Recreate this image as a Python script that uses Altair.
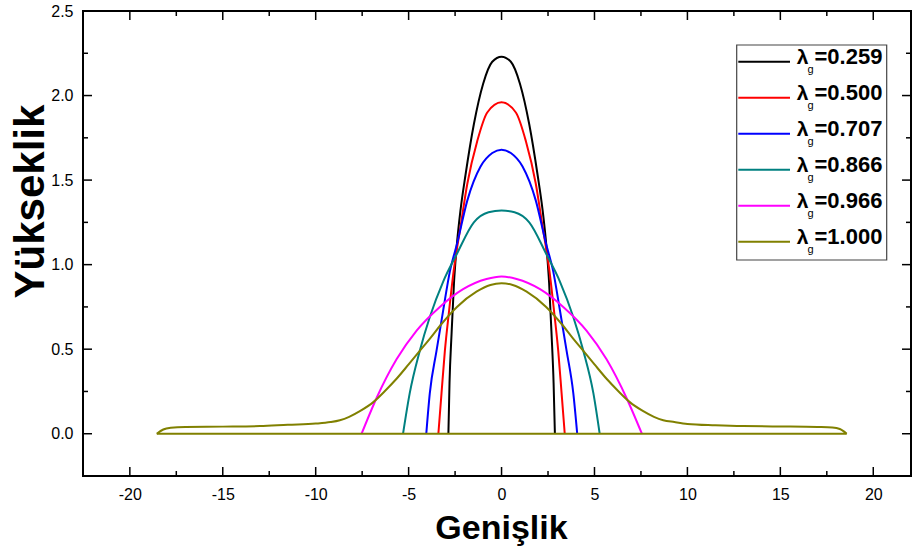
import altair as alt
import pandas as pd

# ---------------- data ----------------
series_names = ["0.259", "0.500", "0.707", "0.866", "0.966", "1.000"]
series_colors = ["#000000", "#FF0000", "#0000FF", "#008080", "#FF00FF", "#808000"]

black_x = [-2.86, -2.80, -2.69, -2.56, -2.42, -2.20, -1.94, -1.49, -0.99, -0.50, 0.00,
           0.50, 0.99, 1.49, 1.94, 2.20, 2.42, 2.56, 2.69, 2.80, 2.87]
black_y = [0.00, 0.30, 0.59, 0.89, 1.10, 1.33, 1.53, 1.83, 2.07, 2.20, 2.23,
           2.20, 2.07, 1.83, 1.53, 1.33, 1.10, 0.89, 0.59, 0.30, 0.00]

red_x = [-3.40, -3.23, -3.05, -2.82, -2.58, -2.20, -1.84, -1.31, -0.77, 0.00,
         0.77, 1.31, 1.84, 2.20, 2.58, 2.82, 3.05, 3.23, 3.40]
red_y = [0.00, 0.24, 0.49, 0.73, 0.96, 1.23, 1.48, 1.73, 1.90, 1.96,
         1.90, 1.73, 1.48, 1.23, 0.96, 0.73, 0.49, 0.24, 0.00]

blue_x = [-4.05, -3.86, -3.50, -3.14, -2.78, -2.38, -1.84, -1.13, -0.50, 0.00,
          0.50, 1.13, 1.84, 2.38, 2.78, 3.14, 3.50, 3.86, 4.07]
blue_y = [0.00, 0.24, 0.49, 0.73, 0.96, 1.13, 1.38, 1.58, 1.66, 1.68,
          1.66, 1.58, 1.38, 1.13, 0.96, 0.73, 0.49, 0.24, 0.00]

teal_x = [-5.30, -4.94, -4.40, -3.86, -3.14, -2.42, -1.49, -0.70, 0.00,
          0.70, 1.49, 2.42, 3.14, 3.86, 4.40, 4.94, 5.28]
teal_y = [0.00, 0.24, 0.49, 0.69, 0.90, 1.06, 1.25, 1.31, 1.32,
          1.31, 1.25, 1.06, 0.90, 0.69, 0.49, 0.24, 0.00]

magenta_x = [-7.53, -6.73, -5.65, -4.57, -3.32, -2.07, -0.81, 0.00,
             0.81, 2.07, 3.32, 4.57, 5.65, 6.73, 7.55]
magenta_y = [0.00, 0.21, 0.44, 0.61, 0.75, 0.855, 0.915, 0.93,
             0.915, 0.855, 0.75, 0.61, 0.44, 0.21, 0.00]

olive_x = [-18.55, -18.20, -17.80, -17.00, -15.00, -13.00, -11.50, -10.00, -9.20, -8.70,
           -8.20, -7.60, -6.90, -6.30, -5.65, -5.00, -4.40, -3.80, -3.30, -2.40, -1.35,
           -0.60, 0.00, 0.60, 1.35, 2.40, 3.30, 3.80, 4.40, 5.00, 5.65, 6.30, 6.90, 7.60,
           8.20, 8.70, 9.30, 10.00, 11.50, 13.00, 15.00, 17.00, 17.80, 18.20, 18.57]
olive_y = [0.000, 0.025, 0.035, 0.040, 0.042, 0.045, 0.053, 0.060, 0.069, 0.080,
           0.100, 0.135, 0.187, 0.250, 0.325, 0.410, 0.490, 0.570, 0.640, 0.750, 0.840,
           0.880, 0.890, 0.880, 0.840, 0.750, 0.640, 0.570, 0.490, 0.410, 0.325, 0.250,
           0.187, 0.135, 0.100, 0.080, 0.069, 0.058, 0.050, 0.045, 0.043, 0.040, 0.037,
           0.028, 0.000]
olive_base_x = [-18.55, 18.57]
olive_base_y = [0.0, 0.0]

x_major = [-20, -15, -10, -5, 0, 5, 10, 15, 20]
x_minor = [-17.5, -12.5, -7.5, -2.5, 2.5, 7.5, 12.5, 17.5]
y_major = [0.0, 0.5, 1.0, 1.5, 2.0, 2.5]
y_minor = [0.25, 0.75, 1.25, 1.75, 2.25]

# ---------------- layout constants ----------------
W, H = 828, 465
FONT = "Liberation Sans"

xs_all = [black_x, red_x, blue_x, teal_x, magenta_x, olive_x]
ys_all = [black_y, red_y, blue_y, teal_y, magenta_y, olive_y]

X = alt.X("x:Q",
          scale=alt.Scale(domain=[-22.52, 22.03], nice=False, zero=False),
          axis=alt.Axis(values=x_major, title="Genişlik", grid=False, domain=False,
                        ticks=False, labelExpr="datum.value + ''",
                        labelFont=FONT, labelFontSize=16, labelColor="black",
                        labelPadding=10, labelFlush=False, labelOverlap=False,
                        titleFont=FONT, titleFontSize=34, titleFontWeight="bold",
                        titleColor="black", titleX=418, titleY=62,
                        titleAlign="center", titleBaseline="alphabetic"))
Y = alt.Y("y:Q",
          scale=alt.Scale(domain=[-0.25, 2.5], nice=False, zero=False),
          axis=alt.Axis(values=y_major, format=".1f", title="Yükseklik", grid=False,
                        domain=False, ticks=False, labelFont=FONT, labelFontSize=16,
                        labelColor="black", labelPadding=10, labelFlush=False,
                        labelOverlap=False, titleFont=FONT, titleFontSize=42,
                        titleFontWeight="bold", titleColor="black", titleAngle=270,
                        titleX=-40, titleY=190, titleAlign="center",
                        titleBaseline="alphabetic"))

layers = []
for name, col, xs, ys in zip(series_names, series_colors, xs_all, ys_all):
    df = pd.DataFrame({"x": xs, "y": ys, "i": list(range(len(xs)))})
    layers.append(alt.Chart(df).mark_line(color=col, strokeWidth=2, interpolate="monotone")
                  .encode(x=X, y=Y, order="i:Q"))
df_base = pd.DataFrame({"x": olive_base_x, "y": olive_base_y, "i": [0, 1]})
layers.append(alt.Chart(df_base).mark_line(color=series_colors[-1], strokeWidth=2)
              .encode(x=X, y=Y, order="i:Q"))

# inward ticks on all four sides
def xticks(vals, length):
    d = pd.DataFrame({"x": vals})
    bottom = alt.Chart(d).mark_rule(color="black", strokeWidth=1.5).encode(
        x=X, y=alt.value(H), y2=alt.value(H - length))
    top = alt.Chart(d).mark_rule(color="black", strokeWidth=1.5).encode(
        x=X, y=alt.value(0), y2=alt.value(length))
    return [bottom, top]

def yticks(vals, length):
    d = pd.DataFrame({"y": vals})
    left = alt.Chart(d).mark_rule(color="black", strokeWidth=1.5).encode(
        y=Y, x=alt.value(0), x2=alt.value(length))
    right = alt.Chart(d).mark_rule(color="black", strokeWidth=1.5).encode(
        y=Y, x=alt.value(W), x2=alt.value(W - length))
    return [left, right]

tick_layers = xticks(x_major, 9) + xticks(x_minor, 5) + yticks(y_major, 9) + yticks(y_minor, 5)

main = alt.layer(*(tick_layers + layers))

# ---------------- custom legend (λ with subscript g) ----------------
leg = pd.DataFrame({"row": list(range(6)),
                    "num": ["=" + n for n in series_names],
                    "color": series_colors})
LY = alt.Y("row:Q", scale=alt.Scale(domain=[0, 5], range=[50.7, 230.7]), axis=None)
box = alt.Chart(pd.DataFrame({"a": [0]})).mark_rect(
    fill="white", stroke="#444444", strokeWidth=1.2).encode(
    x=alt.value(653.7), x2=alt.value(803.7), y=alt.value(34), y2=alt.value(249))
leg_lines = alt.Chart(leg).mark_rule(strokeWidth=2).encode(
    y=LY, x=alt.value(655.3), x2=alt.value(707),
    color=alt.Color("color:N", scale=None))
leg_lam = alt.Chart(leg).mark_text(
    text="λ", font=FONT, fontSize=21, fontWeight="bold", align="left",
    baseline="alphabetic", dy=2.5, color="black").encode(y=LY, x=alt.value(713.7))
leg_g = alt.Chart(leg).mark_text(
    text="g", font=FONT, fontSize=11, fontWeight="normal", align="left",
    baseline="alphabetic", dy=11, color="black").encode(y=LY, x=alt.value(724.5))
leg_num = alt.Chart(leg).mark_text(
    font=FONT, fontSize=22, fontWeight="bold", align="left",
    baseline="alphabetic", dy=2.5, color="black").encode(
    y=LY, x=alt.value(731.5), text="num:N")
legend = alt.layer(box, leg_lines, leg_lam, leg_g, leg_num)

chart = alt.layer(main, legend).resolve_scale(y="independent").properties(
    width=W, height=H,
    autosize=alt.AutoSizeParams(type="none"),
    padding={"left": 83, "top": 11, "right": 2, "bottom": 78},
    background="white",
).configure_view(stroke="black", strokeWidth=2)

chart.save("out.html", embed_options={"renderer": "svg", "actions": False})
